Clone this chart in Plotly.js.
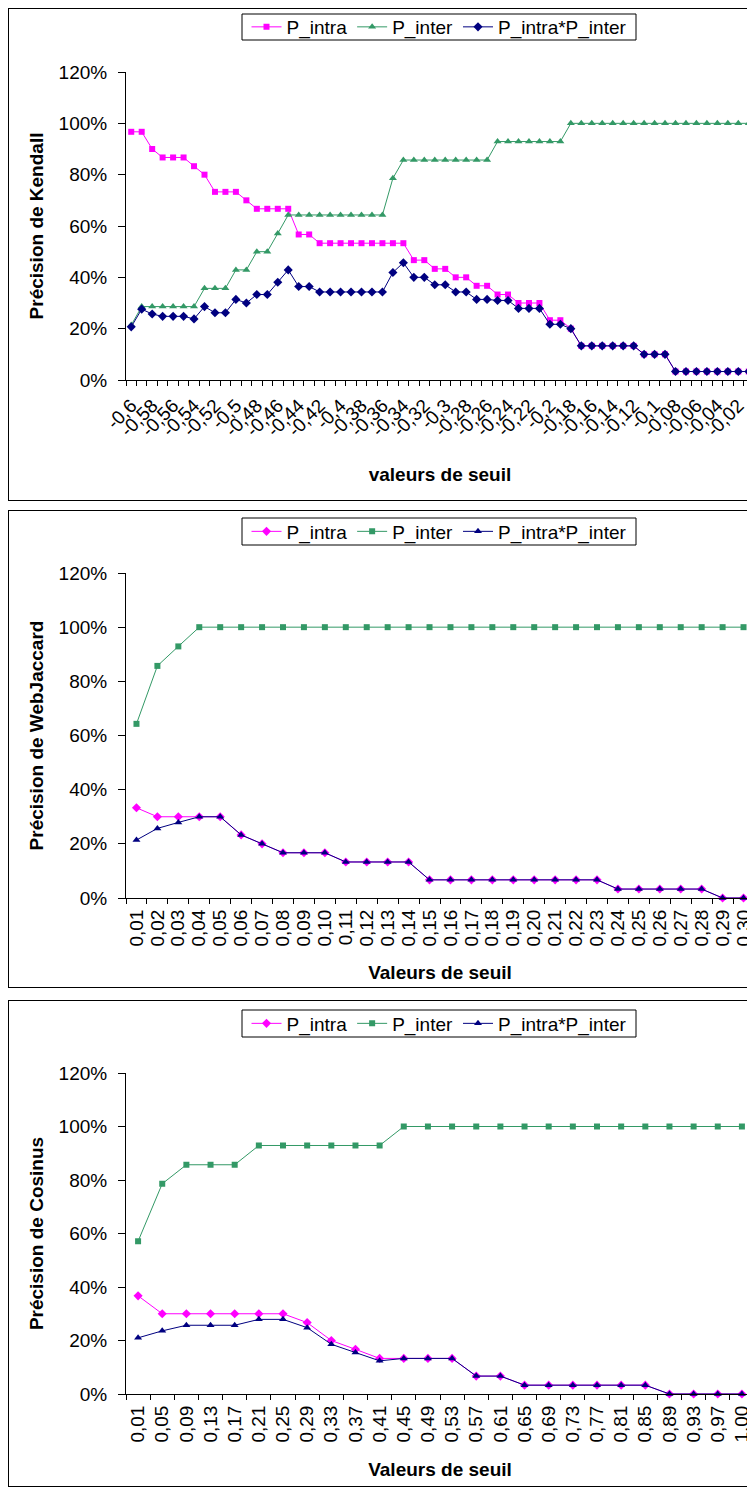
<!DOCTYPE html>
<html>
<head>
<meta charset="utf-8">
<script src="https://cdn.plot.ly/plotly-3.0.1.min.js"></script>
<style>
  html, body { margin: 0; padding: 0; width: 747px; height: 1490px; overflow: hidden; background: #fff; }
  .plot { position: absolute; left: 0; width: 800px; }
  .frame { position: absolute; left: 8px; width: 800px; border: 1px solid #000; pointer-events: none; box-sizing: content-box; }
</style>
</head>
<body>
<div id="c1" class="plot" style="top:8px;height:493px"></div>
<div id="c2" class="plot" style="top:510px;height:478px"></div>
<div id="c3" class="plot" style="top:1000px;height:487px"></div>
<div class="frame" style="top:8px;height:491px"></div>
<div class="frame" style="top:510px;height:476px"></div>
<div class="frame" style="top:1000px;height:485px"></div>
<script>
// ---------- Chart 1 : Kendall ----------
const kendallCats = ["-0,6","-0,59","-0,58","-0,57","-0,56","-0,55","-0,54","-0,53","-0,52","-0,51",
  "-0,5","-0,49","-0,48","-0,47","-0,46","-0,45","-0,44","-0,43","-0,42","-0,41",
  "-0,4","-0,39","-0,38","-0,37","-0,36","-0,35","-0,34","-0,33","-0,32","-0,31",
  "-0,3","-0,29","-0,28","-0,27","-0,26","-0,25","-0,24","-0,23","-0,22","-0,21",
  "-0,2","-0,19","-0,18","-0,17","-0,16","-0,15","-0,14","-0,13","-0,12","-0,11",
  "-0,1","-0,09","-0,08","-0,07","-0,06","-0,05","-0,04","-0,03","-0,02","-0,01"];
const kendallIntra = [0.967,0.967,0.900,0.867,0.867,0.867,0.833,0.800,0.733,0.733,
  0.733,0.700,0.667,0.667,0.667,0.667,0.567,0.567,0.533,0.533,
  0.533,0.533,0.533,0.533,0.533,0.533,0.533,0.467,0.467,0.433,
  0.433,0.400,0.400,0.367,0.367,0.333,0.333,0.300,0.300,0.300,
  0.233,0.233,0.200,0.133,0.133,0.133,0.133,0.133,0.133,0.100,
  0.100,0.100,0.033,0.033,0.033,0.033,0.033,0.033,0.033,0.033];
const kendallInter = [0.214,0.286,0.286,0.286,0.286,0.286,0.286,0.357,0.357,0.357,
  0.429,0.429,0.500,0.500,0.571,0.643,0.643,0.643,0.643,0.643,
  0.643,0.643,0.643,0.643,0.643,0.786,0.857,0.857,0.857,0.857,
  0.857,0.857,0.857,0.857,0.857,0.929,0.929,0.929,0.929,0.929,
  0.929,0.929,1.000,1.000,1.000,1.000,1.000,1.000,1.000,1.000,
  1.000,1.000,1.000,1.000,1.000,1.000,1.000,1.000,1.000,1.000];
const kendallProd = [0.207,0.276,0.257,0.248,0.248,0.248,0.238,0.286,0.262,0.262,
  0.314,0.300,0.333,0.333,0.381,0.429,0.364,0.364,0.343,0.343,
  0.343,0.343,0.343,0.343,0.343,0.419,0.457,0.400,0.400,0.371,
  0.371,0.343,0.343,0.314,0.314,0.310,0.310,0.279,0.279,0.279,
  0.217,0.217,0.200,0.133,0.133,0.133,0.133,0.133,0.133,0.100,
  0.100,0.100,0.033,0.033,0.033,0.033,0.033,0.033,0.033,0.033];

// ---------- Chart 2 : WebJaccard ----------
const jaccardCats = ["0,01","0,02","0,03","0,04","0,05","0,06","0,07","0,08","0,09","0,10",
  "0,11","0,12","0,13","0,14","0,15","0,16","0,17","0,18","0,19","0,20",
  "0,21","0,22","0,23","0,24","0,25","0,26","0,27","0,28","0,29","0,30"];
const jaccardIntra = [0.333,0.300,0.300,0.300,0.300,0.233,0.200,0.167,0.167,0.167,
  0.133,0.133,0.133,0.133,0.067,0.067,0.067,0.067,0.067,0.067,
  0.067,0.067,0.067,0.033,0.033,0.033,0.033,0.033,0.000,0.000];
const jaccardInter = [0.643,0.857,0.929,1.000,1.000,1.000,1.000,1.000,1.000,1.000,
  1.000,1.000,1.000,1.000,1.000,1.000,1.000,1.000,1.000,1.000,
  1.000,1.000,1.000,1.000,1.000,1.000,1.000,1.000,1.000,1.000];
const jaccardProd = [0.214,0.257,0.279,0.300,0.300,0.233,0.200,0.167,0.167,0.167,
  0.133,0.133,0.133,0.133,0.067,0.067,0.067,0.067,0.067,0.067,
  0.067,0.067,0.067,0.033,0.033,0.033,0.033,0.033,0.000,0.000];

// ---------- Chart 3 : Cosinus ----------
const cosCats = ["0,01","0,05","0,09","0,13","0,17","0,21","0,25","0,29","0,33","0,37",
  "0,41","0,45","0,49","0,53","0,57","0,61","0,65","0,69","0,73","0,77",
  "0,81","0,85","0,89","0,93","0,97","1,00"];
const cosIntra = [0.367,0.300,0.300,0.300,0.300,0.300,0.300,0.267,0.200,0.167,
  0.133,0.133,0.133,0.133,0.067,0.067,0.033,0.033,0.033,0.033,
  0.033,0.033,0.000,0.000,0.000,0.000];
const cosInter = [0.571,0.786,0.857,0.857,0.857,0.929,0.929,0.929,0.929,0.929,
  0.929,1.000,1.000,1.000,1.000,1.000,1.000,1.000,1.000,1.000,
  1.000,1.000,1.000,1.000,1.000,1.000];
const cosProd = [0.210,0.236,0.257,0.257,0.257,0.279,0.279,0.248,0.186,0.155,
  0.124,0.133,0.133,0.133,0.067,0.067,0.033,0.033,0.033,0.033,
  0.033,0.033,0.000,0.000,0.000,0.000];

const seriesNames = ["P_intra", "P_inter", "P_intra*P_inter"];
const yTickVals = [0, 0.2, 0.4, 0.6, 0.8, 1.0, 1.2];

const FONT = "Liberation Sans, Arial, sans-serif";
const MAGENTA = "#FF00FF", GREEN = "#339966", NAVY = "#000080";

function trace(cats, vals, name, color, symbol, size) {
  return {
    x: cats, y: vals, name: name, type: "scatter", mode: "lines+markers",
    cliponaxis: false,
    line: { color: color, width: 1 },
    marker: { color: color, symbol: symbol, size: size, line: { width: 0 } }
  };
}

function layout(o) {
  const L = 126, W = 800, R = 46;
  const plotW = W - L - R, plotH = o.h - o.t - o.b;
  const px = v => (v - L) / plotW;             // page x -> paper x
  const py = v => 1 + (o.t - v) / plotH;       // div-relative y -> paper y
  return {
    width: W, height: o.h,
    margin: { l: L, r: R, t: o.t, b: o.b, pad: 0 },
    paper_bgcolor: "#fff", plot_bgcolor: "#fff",
    font: { family: FONT, size: 19, color: "#000" },
    showlegend: true,
    legend: {
      orientation: "h", x: px((o.legX0 + o.legX1) / 2), xanchor: "center",
      yref: "container", y: 1 - ((o.legY0 + o.legY1) / 2) / o.h, yanchor: "middle",
      borderwidth: 0, bgcolor: "rgba(0,0,0,0)",
      font: { family: FONT, size: 19, color: "#000" },
      itemwidth: 30, tracegroupgap: 0
    },
    shapes: [{
      type: "rect", xref: "paper", yref: "paper", layer: "below",
      x0: px(o.legX0), x1: px(o.legX1), y0: py(o.legY1), y1: py(o.legY0),
      line: { color: "#000", width: 1 }, fillcolor: "#fff"
    }],
    xaxis: {
      type: "category", range: [-0.5, o.cats.length - 0.5],
      tickmode: "array", tickvals: o.cats, ticktext: o.labels,
      tickson: "boundaries", ticks: "outside", ticklen: 5, tickwidth: 1, tickcolor: "#000",
      tickangle: o.angle, ticklabelstandoff: o.xstand,
      tickfont: { family: FONT, size: 19, color: "#000" },
      showline: true, linecolor: "#000", linewidth: 1,
      showgrid: false, zeroline: false, automargin: false, fixedrange: true,
      title: { text: o.xtitle, standoff: o.xts, font: { family: FONT, size: 19, color: "#000", weight: "bold" } }
    },
    yaxis: {
      range: [0, 1.2], tickmode: "array", tickvals: yTickVals, tickformat: ".0%",
      ticks: "outside", ticklen: 7, tickwidth: 1, tickcolor: "#000", ticklabelstandoff: 7,
      tickfont: { family: FONT, size: 19, color: "#000" },
      showline: true, linecolor: "#000", linewidth: 1,
      showgrid: false, zeroline: false, automargin: false, fixedrange: true,
      title: { text: o.ytitle, standoff: 9, font: { family: FONT, size: 19, color: "#000", weight: "bold" } }
    }
  };
}

const cfg = { staticPlot: true, displayModeBar: false };

Plotly.newPlot("c1", [
  trace(kendallCats, kendallIntra, seriesNames[0], MAGENTA, "square", 6),
  trace(kendallCats, kendallInter, seriesNames[1], GREEN, "triangle-up", 7),
  trace(kendallCats, kendallProd, seriesNames[2], NAVY, "diamond", 7)
], layout({
  h: 493, t: 64, b: 121, legX0: 242, legX1: 636, legY0: 6, legY1: 32, cats: kendallCats,
  labels: kendallCats.map((c, i) => (i % 2 === 0 ? c : "")),
  angle: -45, xstand: 6, xts: 28,
  xtitle: "valeurs de seuil", ytitle: "Précision de Kendall"
}), cfg);

Plotly.newPlot("c2", [
  trace(jaccardCats, jaccardIntra, seriesNames[0], MAGENTA, "diamond", 7),
  trace(jaccardCats, jaccardInter, seriesNames[1], GREEN, "square", 6),
  trace(jaccardCats, jaccardProd, seriesNames[2], NAVY, "triangle-up", 7)
], layout({
  h: 478, t: 63, b: 90, legX0: 242, legX1: 636, legY0: 8, legY1: 35, cats: jaccardCats,
  labels: jaccardCats, angle: -90, xstand: 3, xts: 20,
  xtitle: "Valeurs de seuil", ytitle: "Précision de WebJaccard"
}), cfg);

Plotly.newPlot("c3", [
  trace(cosCats, cosIntra, seriesNames[0], MAGENTA, "diamond", 7),
  trace(cosCats, cosInter, seriesNames[1], GREEN, "square", 6),
  trace(cosCats, cosProd, seriesNames[2], NAVY, "triangle-up", 7)
], layout({
  h: 487, t: 73, b: 93, legX0: 242, legX1: 636, legY0: 10, legY1: 37, cats: cosCats,
  labels: cosCats, angle: -90, xstand: 3, xts: 21,
  xtitle: "Valeurs de seuil", ytitle: "Précision de Cosinus"
}), cfg);
</script>
</body>
</html>
